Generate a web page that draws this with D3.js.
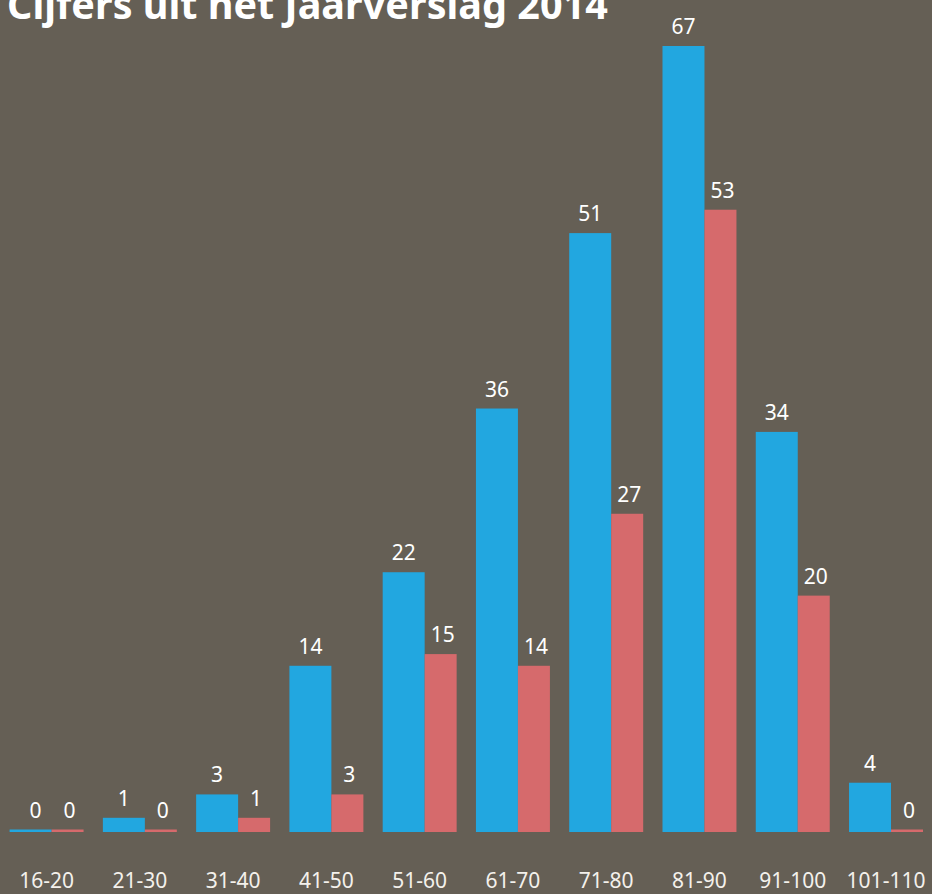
<!DOCTYPE html>
<html>
<head>
<meta charset="utf-8">
<script src="https://cdn.jsdelivr.net/npm/d3@7/dist/d3.min.js"></script>
<style>
  html, body { margin: 0; padding: 0; background: #655f55; overflow: hidden; }
  svg { display: block; }
</style>
</head>
<body>
<script>
// chart values
var categories = ['16-20', '21-30', '31-40', '41-50', '51-60', '61-70', '71-80', '81-90', '91-100', '101-110'];
var blueValues = [0, 1, 3, 14, 22, 36, 51, 67, 34, 4];
var redValues  = [0, 0, 1, 3, 15, 14, 27, 53, 20, 0];
var title = 'Cijfers uit het Jaarverslag 2014';

var W = 932, H = 894;
var baseline = 832;
var font = '"Noto Sans", "Open Sans", sans-serif';

var svg = d3.select('body').append('svg')
    .attr('width', W)
    .attr('height', H);

svg.append('rect')
    .attr('width', W).attr('height', H)
    .attr('fill', '#655f55');

// group scale
var x = d3.scaleBand()
    .domain(categories)
    .range([9.6, 923])
    .paddingInner(0.207)
    .paddingOuter(0);

// bars keep a small stub for zero values
var y = d3.scaleLinear()
    .domain([0, 67])
    .range([829.5, 46]);

var blueShare = 42 / 74;

var groups = svg.selectAll('g.grp')
    .data(categories.map(function (c, i) {
        return {cat: c, blue: blueValues[i], red: redValues[i]};
    }))
    .enter().append('g')
    .attr('class', 'grp')
    .attr('transform', function (d) { return 'translate(' + x(d.cat) + ',0)'; });

var bw = x.bandwidth();
var blueW = bw * blueShare, redW = bw - blueW;

groups.append('rect')
    .attr('x', 0)
    .attr('y', function (d) { return y(d.blue); })
    .attr('width', blueW)
    .attr('height', function (d) { return baseline - y(d.blue); })
    .attr('fill', '#22a7e0');

groups.append('rect')
    .attr('x', blueW)
    .attr('y', function (d) { return y(d.red); })
    .attr('width', redW)
    .attr('height', function (d) { return baseline - y(d.red); })
    .attr('fill', '#d66a6c');

// value labels
groups.append('text')
    .attr('x', function (d) { return blueW / 2 + (d.blue === 0 ? 5 : 0); })
    .attr('y', function (d) { return y(d.blue) - 12; })
    .attr('text-anchor', 'middle')
    .attr('font-family', font)
    .attr('font-size', 21)
    .attr('fill', '#ffffff')
    .text(function (d) { return d.blue; });

groups.append('text')
    .attr('x', blueW + redW / 2 + 2)
    .attr('y', function (d) { return y(d.red) - 12; })
    .attr('text-anchor', 'middle')
    .attr('font-family', font)
    .attr('font-size', 21)
    .attr('fill', '#ffffff')
    .text(function (d) { return d.red; });

// category axis (no line, labels only)
var xAxis = svg.append('g')
    .attr('transform', 'translate(0,' + baseline + ')')
    .call(d3.axisBottom(x).tickSize(0).tickPadding(41));
xAxis.select('.domain').remove();
xAxis.selectAll('text')
    .attr('font-family', font)
    .attr('font-size', 21)
    .attr('fill', '#f4f1ec');

// title, cut off at the top like the source
var t = svg.append('text')
    .attr('x', 7)
    .attr('y', 19)
    .attr('font-family', font)
    .attr('font-weight', 'bold')
    .attr('font-size', 36)
    .attr('fill', '#ffffff')
    .text(title);
var len = t.node().getComputedTextLength();
t.attr('font-size', 36 * 601 / len);
</script>
</body>
</html>
